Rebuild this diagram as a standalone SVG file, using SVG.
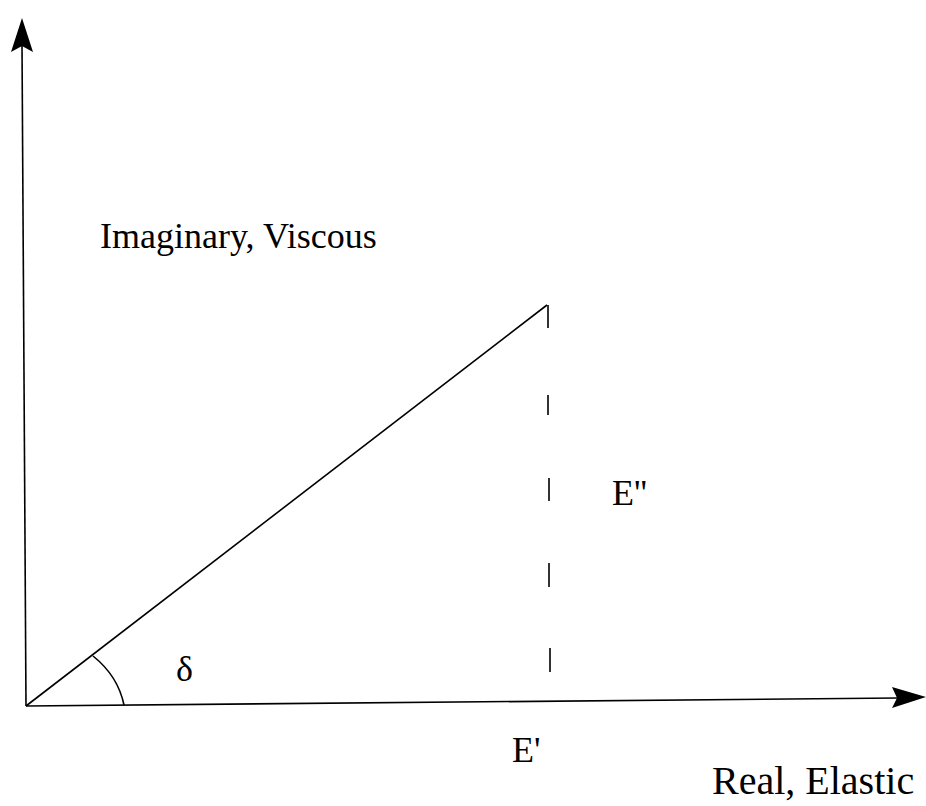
<svg xmlns="http://www.w3.org/2000/svg" width="926" height="806" viewBox="0 0 926 806">
<style>
.ln{stroke:#000;stroke-width:1.6;fill:none}
.ah{fill:#000;stroke:none}
.t{font-family:"Liberation Serif","Times New Roman",serif;fill:#000}
</style>
<rect width="926" height="806" fill="#fff"/>
<g id="connectors">
<line class="ln" x1="22" y1="45" x2="26" y2="706"/>
<path class="ah" d="M22,18 L33,52 L22,46 L11,52 Z"/>
<line class="ln" x1="26" y1="706" x2="898" y2="698"/>
<path class="ah" d="M926,697 L892,708 L897,698 L892,687 Z"/>
<line class="ln" x1="26" y1="706" x2="547" y2="305"/>
<path class="ln" d="M548,305 V328 M548,395 V415 M549,478 V501 M549,563 V587 M550,648 V672" stroke-width="1.4"/>
<path class="ln" d="M93,656 Q118,676 124,705"/>
</g>
<g id="label-imaginary"><text class="t" x="100" y="248" font-size="36">Imaginary, Viscous</text></g>
<g id="label-delta"><text class="t" x="176" y="681" font-size="36">δ</text></g>
<g id="label-E2"><text class="t" x="612" y="505" font-size="36">E''</text></g>
<g id="label-E1"><text class="t" x="512" y="762" font-size="36">E'</text></g>
<g id="label-real"><text class="t" x="712" y="794" font-size="40">Real, Elastic</text></g>
</svg>
